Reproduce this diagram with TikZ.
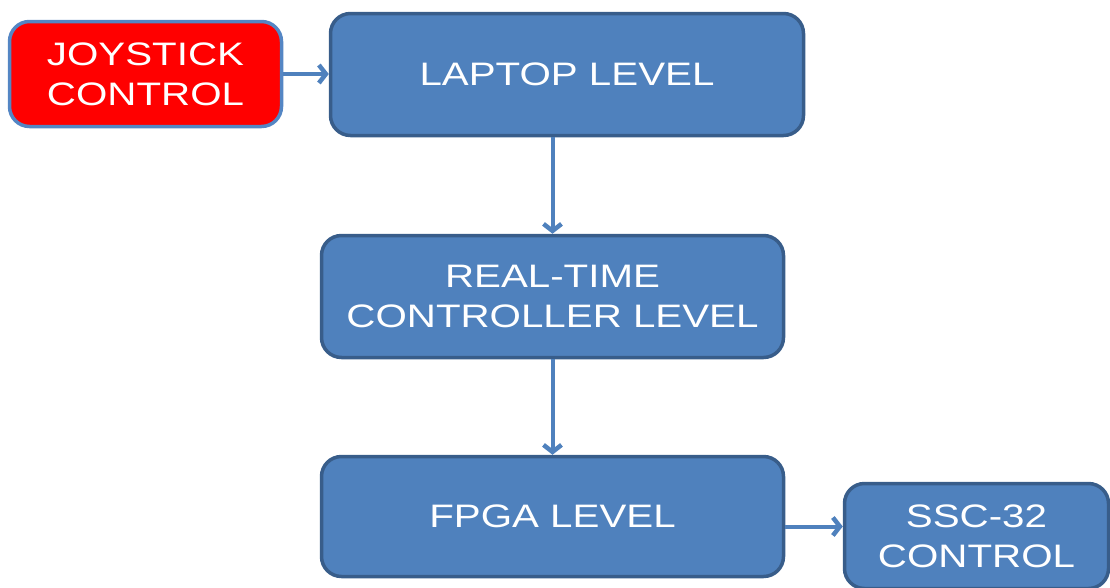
\documentclass[tikz,border=0pt]{standalone}
\usepackage{fontspec}
\setmainfont{Liberation Sans}[FakeStretch=1.24]
\usetikzlibrary{arrows.meta,calc}

\definecolor{boxblue}{RGB}{79,129,189}
\definecolor{edgeblue}{RGB}{56,93,138}
\definecolor{lightedge}{RGB}{84,134,196}
\definecolor{boxred}{RGB}{255,0,0}

\tikzset{
  blockbox/.style={draw=edgeblue, fill=boxblue, line width=3.5pt,
    rounded corners=20pt, text=white, align=center, inner sep=0pt,
    font=\fontsize{32.5}{40}\selectfont},
  redbox/.style={blockbox, draw=lightedge, fill=boxred},
  link/.style={draw=boxblue, line width=4pt,
    -{Straight Barb[length=7pt,width=18pt,line width=4.5pt]}}
}

\begin{document}
\begin{tikzpicture}[x=1pt,y=-1pt]
  \useasboundingbox (0,0) rectangle (1110,587);
  \clip (0,0) rectangle (1110,587);

  \node[redbox, minimum width=272pt, minimum height=105pt] (joy) at (145.5,74)
    {JOYSTICK\\CONTROL};
  \node[blockbox, minimum width=473pt, minimum height=122pt] (laptop) at (567,74.5)
    {LAPTOP LEVEL};
  \node[blockbox, minimum width=462pt, minimum height=122pt] (rt) at (552.5,296.5)
    {REAL-TIME\\CONTROLLER LEVEL};
  \node[blockbox, minimum width=462pt, minimum height=120pt] (fpga) at (552.5,516.5)
    {FPGA LEVEL};
  \node[blockbox, minimum width=264pt, minimum height=105pt] (ssc) at (976.5,536)
    {SSC-32\\CONTROL};

  \coordinate (fpgaout) at ($(fpga.east)+(0,10)$);

  \draw[link] (joy.east) -- (laptop.west |- joy.east);
  \draw[link] (rt.north |- laptop.south) -- (rt.north);
  \draw[link] (rt.south) -- (fpga.north);
  \draw[link] (fpgaout) -- (ssc.west |- fpgaout);
\end{tikzpicture}
\end{document}
